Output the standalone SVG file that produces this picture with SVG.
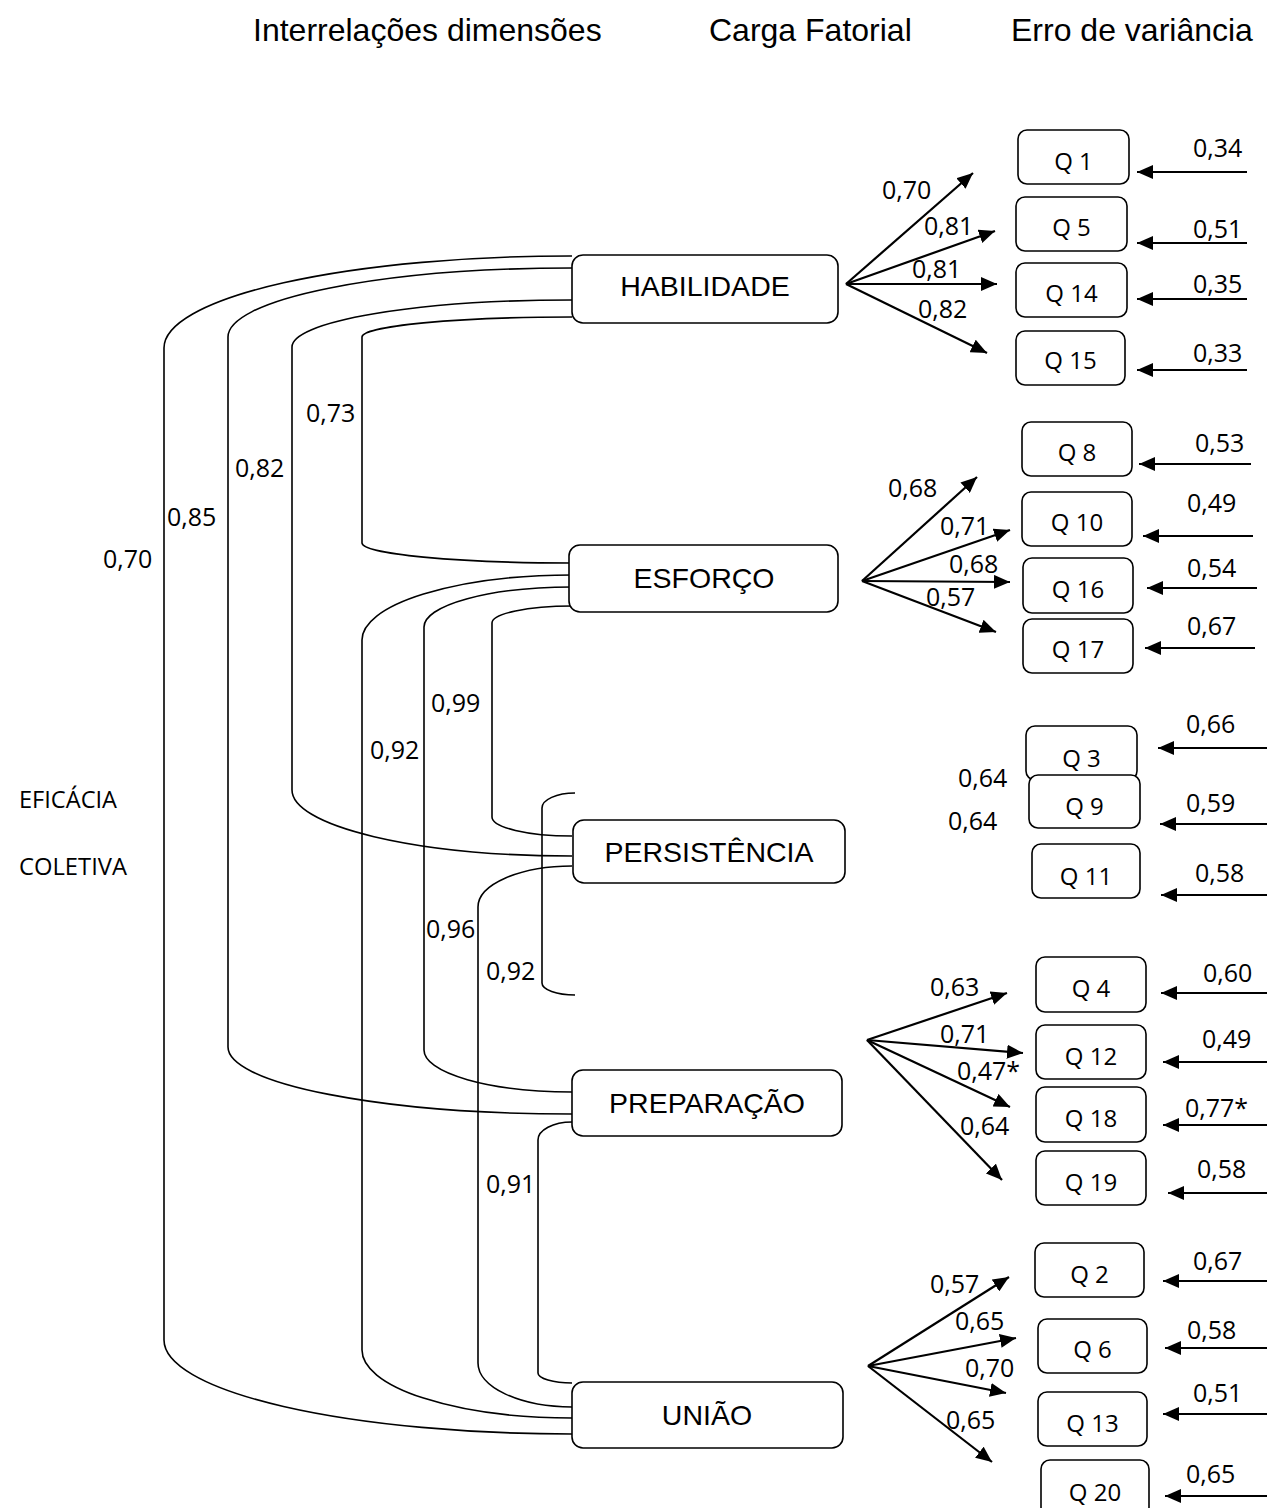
<svg xmlns="http://www.w3.org/2000/svg" width="1267" height="1508" viewBox="0 0 1267 1508">
<style>
.hdr{font-family:"Liberation Sans",Arial,sans-serif;font-size:32px;fill:#000}
.bt{font-family:"Liberation Sans",Arial,sans-serif;font-size:28.5px;fill:#000;text-anchor:middle}
.num{font-family:"Open Sans","Noto Sans",sans-serif;font-size:25px;fill:#000}
.q{font-family:"Open Sans","Noto Sans",sans-serif;font-size:24px;fill:#000;text-anchor:middle}
.lbl{font-family:"Open Sans","Noto Sans",sans-serif;font-size:23px;fill:#000}
.box{fill:#fff;stroke:#000;stroke-width:1.6}
.cur{fill:none;stroke:#000;stroke-width:1.6}
.arr{fill:none;stroke:#000;stroke-width:2.2;marker-end:url(#ah)}
</style>
<defs>
<marker id="ah" markerUnits="userSpaceOnUse" markerWidth="17" markerHeight="14" refX="16" refY="7" orient="auto">
<path d="M0,0 L16,7 L0,14 z" fill="#000"/>
</marker>
</defs>
<rect width="1267" height="1508" fill="#fff"/>

<text class="hdr" x="253" y="41">Interrelações dimensões</text>
<text class="hdr" x="709" y="41">Carga Fatorial</text>
<text class="hdr" x="1011" y="41">Erro de variância</text>

<text class="lbl" x="19" y="808" textLength="98" lengthAdjust="spacingAndGlyphs">EFICÁCIA</text>
<text class="lbl" x="19" y="875" textLength="108" lengthAdjust="spacingAndGlyphs">COLETIVA</text>

<g id="connectors">
<!-- interrelation brackets -->
<path class="cur" d="M572,256 A406,92 0 0 0 164,348 V1340 A408,94 0 0 0 572,1434"/>
<path class="cur" d="M572,268 A344,69 0 0 0 228,337 V1047 A344,67 0 0 0 572,1114"/>
<path class="cur" d="M572,300 A280,47 0 0 0 292,347 V790 A280,66 0 0 0 572,856"/>
<path class="cur" d="M572,317 A210,20 0 0 0 362,337 V543 A210,20 0 0 0 572,563"/>
<path class="cur" d="M572,575 A210,65 0 0 0 362,640 V1350 A210,68 0 0 0 572,1418"/>
<path class="cur" d="M572,587 A148,40 0 0 0 424,627 V1050 A148,42 0 0 0 572,1092"/>
<path class="cur" d="M572,606 A80,17 0 0 0 492,623 V817 A80,19 0 0 0 572,836"/>
<path class="cur" d="M572,866 A94,41 0 0 0 478,907 V1363 A94,44 0 0 0 572,1407"/>
<path class="cur" d="M575,793 A33,15 0 0 0 542,808 V983 A33,12 0 0 0 575,995"/>
<path class="cur" d="M572,1122 A34,18 0 0 0 538,1140 V1373 A34,10 0 0 0 572,1383"/>

<!-- factor loadings -->
<line class="arr" x1="846" y1="284" x2="973" y2="173"/>
<line class="arr" x1="846" y1="284" x2="995" y2="231"/>
<line class="arr" x1="846" y1="284" x2="997" y2="284"/>
<line class="arr" x1="846" y1="284" x2="987" y2="353"/>

<line class="arr" x1="862" y1="581" x2="977" y2="477"/>
<line class="arr" x1="862" y1="581" x2="1010" y2="530"/>
<line class="arr" x1="862" y1="581" x2="1010" y2="582"/>
<line class="arr" x1="862" y1="581" x2="996" y2="632"/>

<line class="arr" x1="867" y1="1040" x2="1007" y2="993"/>
<line class="arr" x1="867" y1="1040" x2="1023" y2="1053"/>
<line class="arr" x1="867" y1="1040" x2="1010" y2="1107"/>
<line class="arr" x1="867" y1="1040" x2="1002" y2="1180"/>

<line class="arr" x1="868" y1="1366" x2="1009" y2="1277"/>
<line class="arr" x1="868" y1="1366" x2="1016" y2="1338"/>
<line class="arr" x1="868" y1="1366" x2="1006" y2="1393"/>
<line class="arr" x1="868" y1="1366" x2="992" y2="1462"/>

<!-- error variance -->
<line class="arr" x1="1247" y1="172" x2="1137" y2="172"/>
<line class="arr" x1="1247" y1="243" x2="1137" y2="243"/>
<line class="arr" x1="1247" y1="299" x2="1137" y2="299"/>
<line class="arr" x1="1247" y1="370" x2="1137" y2="370"/>
<line class="arr" x1="1251" y1="464" x2="1139" y2="464"/>
<line class="arr" x1="1253" y1="536" x2="1143" y2="536"/>
<line class="arr" x1="1257" y1="588" x2="1147" y2="588"/>
<line class="arr" x1="1255" y1="648" x2="1145" y2="648"/>
<line class="arr" x1="1267" y1="748" x2="1158" y2="748"/>
<line class="arr" x1="1267" y1="824" x2="1160" y2="824"/>
<line class="arr" x1="1267" y1="895" x2="1161" y2="895"/>
<line class="arr" x1="1267" y1="993" x2="1161" y2="993"/>
<line class="arr" x1="1267" y1="1062" x2="1163" y2="1062"/>
<line class="arr" x1="1267" y1="1125" x2="1163" y2="1125"/>
<line class="arr" x1="1267" y1="1193" x2="1168" y2="1193"/>
<line class="arr" x1="1267" y1="1281" x2="1163" y2="1281"/>
<line class="arr" x1="1267" y1="1348" x2="1165" y2="1348"/>
<line class="arr" x1="1267" y1="1414" x2="1163" y2="1414"/>
<line class="arr" x1="1267" y1="1496" x2="1165" y2="1496"/>
</g>

<g id="connector-labels">
<text class="num" x="306" y="422">0,73</text>
<text class="num" x="235" y="477">0,82</text>
<text class="num" x="167" y="526">0,85</text>
<text class="num" x="103" y="568">0,70</text>
<text class="num" x="431" y="712">0,99</text>
<text class="num" x="370" y="759">0,92</text>
<text class="num" x="426" y="938">0,96</text>
<text class="num" x="486" y="980">0,92</text>
<text class="num" x="486" y="1193">0,91</text>

<text class="num" x="882" y="199">0,70</text>
<text class="num" x="924" y="235">0,81</text>
<text class="num" x="912" y="278">0,81</text>
<text class="num" x="918" y="318">0,82</text>
<text class="num" x="888" y="497">0,68</text>
<text class="num" x="940" y="535">0,71</text>
<text class="num" x="949" y="573">0,68</text>
<text class="num" x="926" y="606">0,57</text>
<text class="num" x="958" y="787">0,64</text>
<text class="num" x="948" y="830">0,64</text>
<text class="num" x="930" y="996">0,63</text>
<text class="num" x="940" y="1043">0,71</text>
<text class="num" x="957" y="1080">0,47*</text>
<text class="num" x="960" y="1135">0,64</text>
<text class="num" x="930" y="1293">0,57</text>
<text class="num" x="955" y="1330">0,65</text>
<text class="num" x="965" y="1377">0,70</text>
<text class="num" x="946" y="1429">0,65</text>

<text class="num" x="1193" y="157">0,34</text>
<text class="num" x="1193" y="238">0,51</text>
<text class="num" x="1193" y="293">0,35</text>
<text class="num" x="1193" y="362">0,33</text>
<text class="num" x="1195" y="452">0,53</text>
<text class="num" x="1187" y="512">0,49</text>
<text class="num" x="1187" y="577">0,54</text>
<text class="num" x="1187" y="635">0,67</text>
<text class="num" x="1186" y="733">0,66</text>
<text class="num" x="1186" y="812">0,59</text>
<text class="num" x="1195" y="882">0,58</text>
<text class="num" x="1203" y="982">0,60</text>
<text class="num" x="1202" y="1048">0,49</text>
<text class="num" x="1185" y="1117">0,77*</text>
<text class="num" x="1197" y="1178">0,58</text>
<text class="num" x="1193" y="1270">0,67</text>
<text class="num" x="1187" y="1339">0,58</text>
<text class="num" x="1193" y="1402">0,51</text>
<text class="num" x="1186" y="1483">0,65</text>
</g>

<g id="habilidade"><rect class="box" x="572" y="255" width="266" height="68" rx="11"/><text class="bt" x="705" y="296">HABILIDADE</text></g>
<g id="esforco"><rect class="box" x="569" y="545" width="269" height="67" rx="11"/><text class="bt" x="704" y="588">ESFORÇO</text></g>
<g id="persistencia"><rect class="box" x="573" y="820" width="272" height="63" rx="11"/><text class="bt" x="709" y="862">PERSISTÊNCIA</text></g>
<g id="preparacao"><rect class="box" x="572" y="1070" width="270" height="66" rx="11"/><text class="bt" x="707" y="1113">PREPARAÇÃO</text></g>
<g id="uniao"><rect class="box" x="572" y="1382" width="271" height="66" rx="11"/><text class="bt" x="707" y="1425">UNIÃO</text></g>

<g id="q1"><rect class="box" x="1018" y="130" width="111" height="54" rx="9"/><text class="q" x="1073.5" y="170">Q 1</text></g>
<g id="q5"><rect class="box" x="1016" y="197" width="111" height="54" rx="9"/><text class="q" x="1071.5" y="236">Q 5</text></g>
<g id="q14"><rect class="box" x="1016" y="263" width="111" height="54" rx="9"/><text class="q" x="1071.5" y="302">Q 14</text></g>
<g id="q15"><rect class="box" x="1016" y="331" width="109" height="54" rx="9"/><text class="q" x="1070.5" y="369">Q 15</text></g>
<g id="q8"><rect class="box" x="1022" y="422" width="110" height="54" rx="9"/><text class="q" x="1077" y="461">Q 8</text></g>
<g id="q10"><rect class="box" x="1022" y="492" width="110" height="54" rx="9"/><text class="q" x="1077" y="531">Q 10</text></g>
<g id="q16"><rect class="box" x="1023" y="558" width="110" height="55" rx="9"/><text class="q" x="1078" y="598">Q 16</text></g>
<g id="q17"><rect class="box" x="1023" y="619" width="110" height="54" rx="9"/><text class="q" x="1078" y="658">Q 17</text></g>
<g id="q3"><rect class="box" x="1026" y="726" width="111" height="54" rx="9"/><text class="q" x="1081.5" y="767">Q 3</text></g>
<g id="q9"><rect class="box" x="1029" y="775" width="111" height="53" rx="9"/><text class="q" x="1084.5" y="815">Q 9</text></g>
<g id="q11"><rect class="box" x="1032" y="844" width="108" height="54" rx="9"/><text class="q" x="1086" y="885">Q 11</text></g>
<g id="q4"><rect class="box" x="1036" y="957" width="110" height="55" rx="9"/><text class="q" x="1091" y="997">Q 4</text></g>
<g id="q12"><rect class="box" x="1036" y="1025" width="110" height="54" rx="9"/><text class="q" x="1091" y="1065">Q 12</text></g>
<g id="q18"><rect class="box" x="1036" y="1087" width="110" height="55" rx="9"/><text class="q" x="1091" y="1127">Q 18</text></g>
<g id="q19"><rect class="box" x="1036" y="1151" width="110" height="54" rx="9"/><text class="q" x="1091" y="1191">Q 19</text></g>
<g id="q2"><rect class="box" x="1035" y="1243" width="109" height="54" rx="9"/><text class="q" x="1089.5" y="1283">Q 2</text></g>
<g id="q6"><rect class="box" x="1038" y="1319" width="109" height="54" rx="9"/><text class="q" x="1092.5" y="1358">Q 6</text></g>
<g id="q13"><rect class="box" x="1038" y="1392" width="109" height="54" rx="9"/><text class="q" x="1092.5" y="1432">Q 13</text></g>
<g id="q20"><rect class="box" x="1041" y="1460" width="108" height="56" rx="9"/><text class="q" x="1095" y="1501">Q 20</text></g>
</svg>
